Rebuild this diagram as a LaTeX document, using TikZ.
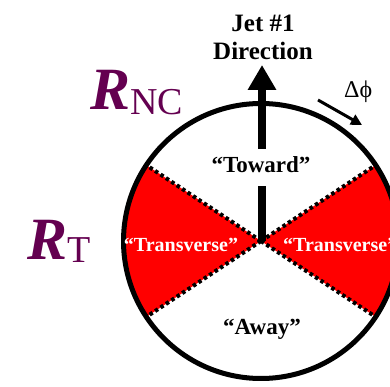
\documentclass[tikz,border=0pt]{standalone}
\usepackage{fontspec}
\setmainfont{Liberation Serif}
\usetikzlibrary{arrows.meta}
\definecolor{rpurple}{RGB}{100,0,80}
\definecolor{sred}{RGB}{255,0,0}
\tikzset{
  sector/.style={fill=sred},
  border/.style={line width=4pt, dash pattern=on 3.5pt off 3pt, black},
  rim/.style={line width=5pt, black},
  lbl/.style={inner sep=0pt, anchor=base, font=\bfseries},
  rlabel/.style={inner sep=0pt, anchor=base west, text=rpurple},
}
\begin{document}
\begin{tikzpicture}[x=1pt,y=1pt]
\useasboundingbox (0,0) rectangle (390,387);
\clip (0,0) rectangle (390,387);
\coordinate (c) at (261,146);
% red sectors
\fill[sector] (c) -- ++(146.5:137.5pt) arc[start angle=146.5, end angle=213.5, radius=137.5pt] -- cycle;
\fill[sector] (c) -- ++(-33.5:137.5pt) arc[start angle=-33.5, end angle=33.5, radius=137.5pt] -- cycle;
% dotted borders
\draw[border] (c) -- ++(146.5:137.5pt);
\draw[border] (c) -- ++(213.5:137.5pt);
\draw[border] (c) -- ++(33.5:137.5pt);
\draw[border] (c) -- ++(-33.5:137.5pt);
% circle
\draw[rim] (c) circle[radius=137.5pt];
% jet arrow
\coordinate (tip) at (262,322);
\draw[line width=7.5pt, -{Triangle[width=27pt,length=25pt]}] (262,146) -- (tip);
% labels
\node[lbl, font=\bfseries\fontsize{25}{25}\selectfont] (jet) at (263,355) {Jet \#1};
\node[lbl, font=\bfseries\fontsize{25}{25}\selectfont] (dir) at (263,327) {Direction};
\node[lbl, font=\bfseries\fontsize{23}{23}\selectfont, fill=white, text height=16pt, text depth=5pt, inner ysep=8pt, inner xsep=2pt] (toward) at (261,214) {“Toward”};
\node[lbl, font=\bfseries\fontsize{20}{20}\selectfont, text=white] (tl) at (181,135) {“Transverse”};
\node[lbl, font=\bfseries\fontsize{20}{20}\selectfont, text=white, anchor=base west] (tr) at (283,135) {“Transverse”};
\node[lbl, font=\bfseries\fontsize{23}{23}\selectfont] (away) at (262,52) {“Away”};
% delta phi
\node[inner sep=0pt, anchor=base west, font=\fontsize{24}{24}\selectfont] (dphi) at (344,289) {Δϕ};
\coordinate (d1) at (318,287);
\coordinate (d2) at (362,262);
\draw[line width=3pt, -{Triangle[width=11pt,length=11pt]}] (d1) -- (d2);
% R labels
\node[rlabel] (rnc) at (90,277) {{\fontsize{60}{60}\selectfont\bfseries\itshape R}\raisebox{-5pt}{\fontsize{38}{38}\selectfont NC}};
\node[rlabel] (rt) at (27,127) {{\fontsize{60}{60}\selectfont\bfseries\itshape R}\raisebox{-3pt}{\fontsize{38}{38}\selectfont T}};
\end{tikzpicture}
\end{document}
